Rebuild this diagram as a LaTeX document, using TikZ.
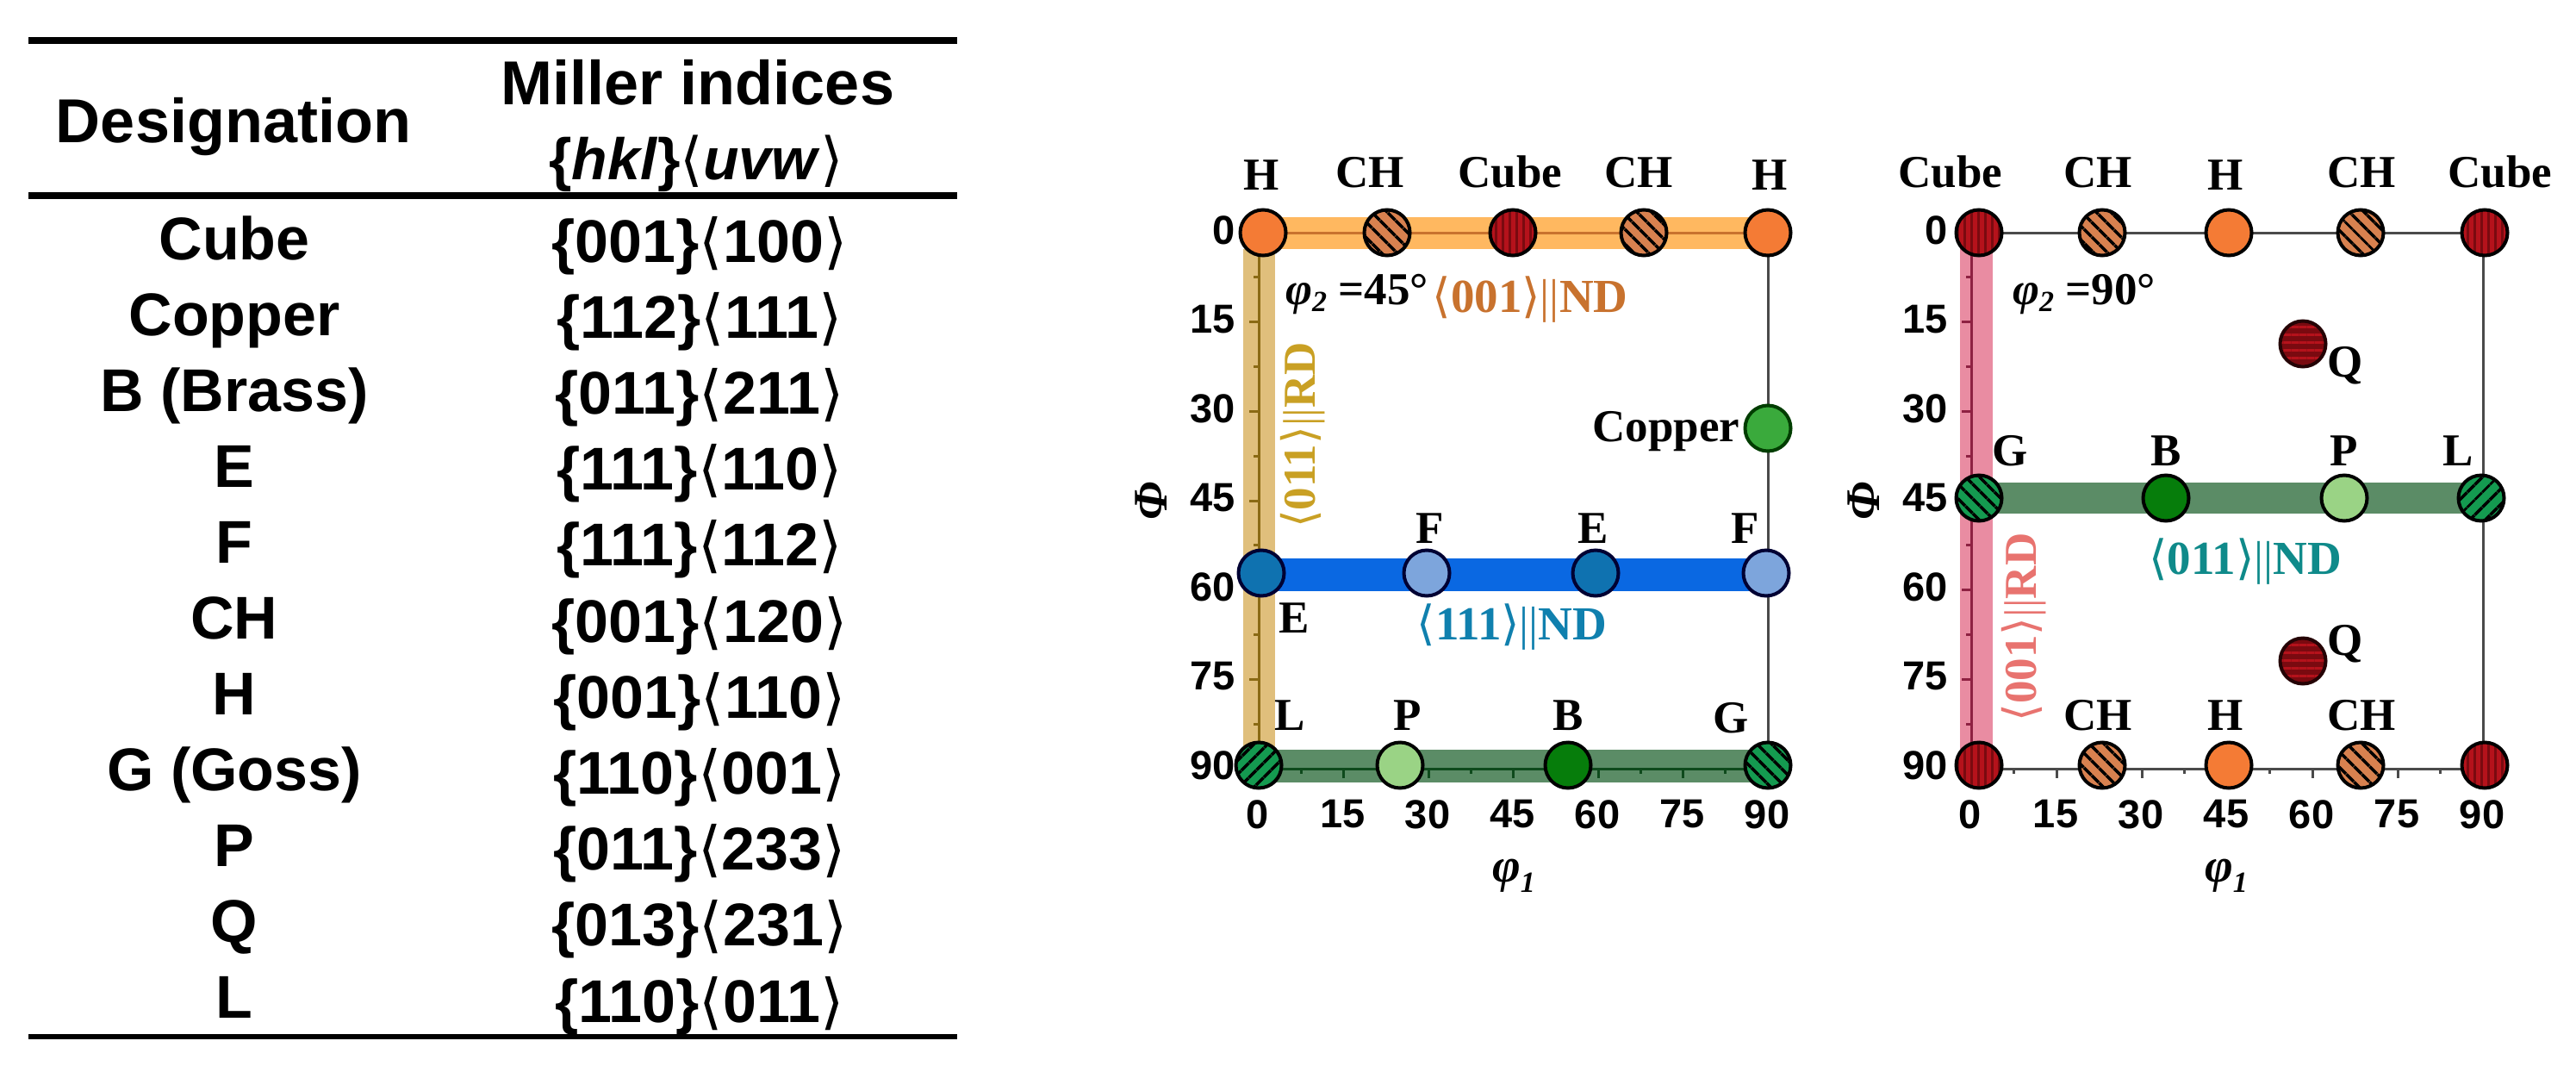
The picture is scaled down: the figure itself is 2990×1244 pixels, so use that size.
\documentclass[tikz,border=0pt]{standalone}
\usepackage{fontspec}
\setmainfont{Liberation Serif}
\setsansfont{Liberation Sans}
\newfontfamily\anglefont{DejaVu Sans}
\usetikzlibrary{patterns.meta}

\definecolor{hcol}{HTML}{F47B35}
\definecolor{chcol}{HTML}{D8814F}
\definecolor{cubecol}{HTML}{B5121B}
\definecolor{cubedark}{HTML}{7A0A10}
\definecolor{coppercol}{HTML}{3AAA3C}
\definecolor{ecol}{HTML}{0F72B0}
\definecolor{fcol}{HTML}{7DA5DC}
\definecolor{lcol}{HTML}{149A50}
\definecolor{pcol}{HTML}{9AD385}
\definecolor{bcol}{HTML}{067D0B}
\definecolor{orangeband}{HTML}{FFB860}
\definecolor{tanband}{HTML}{E0BF7C}
\definecolor{blueband}{HTML}{0A68E2}
\definecolor{greenband}{HTML}{5B8C66}
\definecolor{pinkband}{HTML}{E98CA2}
\definecolor{tanline}{HTML}{8A6A14}
\definecolor{pinkline}{HTML}{8E2142}
\definecolor{axisdark}{HTML}{0E4A1C}
\definecolor{axisgray}{HTML}{4A4A4A}
\definecolor{ndorange}{HTML}{C8722E}
\definecolor{rdgold}{HTML}{C9A024}
\definecolor{ndblue}{HTML}{1080AE}
\definecolor{ndteal}{HTML}{0F8A8A}
\definecolor{rdred}{HTML}{E8736F}

\newcommand{\lang}{{\anglefont\mdseries ⟨}}
\newcommand{\rang}{{\anglefont\mdseries ⟩}}
\newcommand{\parbars}{{\mdseries ||}}

\tikzset{
  tabtext/.style={font=\fontsize{70}{70}\selectfont\sffamily\bfseries,inner sep=0pt,anchor=base},
  tabhead/.style={tabtext,font=\fontsize{72}{72}\selectfont\sffamily\bfseries},
  plotlabel/.style={font=\fontsize{53}{53}\selectfont\bfseries,inner sep=0pt,anchor=base},
  dirlabel/.style={plotlabel,font=\fontsize{55}{55}\selectfont\bfseries},
  ticklabel/.style={font=\fontsize{47}{47}\selectfont\sffamily\bfseries,inner sep=0pt},
  oridot/.style={circle,draw=black,line width=4pt,minimum size=53pt,inner sep=0pt},
  hdot/.style={oridot,fill=hcol},
  chdot/.style={oridot,preaction={fill=chcol},pattern={Lines[angle=-45,distance=13pt,line width=4pt]},pattern color=black},
  cubedot/.style={oridot,preaction={fill=cubecol},pattern={Lines[angle=90,distance=8pt,line width=3pt]},pattern color=cubedark},
  copperdot/.style={oridot,draw=black!60!green!60!black,fill=coppercol},
  edot/.style={oridot,draw=black!80!blue,fill=ecol},
  fdot/.style={oridot,draw=black!80!blue,fill=fcol},
  ldot/.style={oridot,preaction={fill=lcol},pattern={Lines[angle=45,distance=13pt,line width=4pt]},pattern color=black},
  gdot/.style={oridot,preaction={fill=lcol},pattern={Lines[angle=-45,distance=13pt,line width=4pt]},pattern color=black},
  pdot/.style={oridot,fill=pcol},
  bdot/.style={oridot,fill=bcol},
  qdot/.style={oridot,draw=black!70!cubedark,preaction={fill=cubedark},pattern={Lines[angle=0,distance=9pt,line width=3pt]},pattern color=cubecol}
}

\begin{document}
\begin{tikzpicture}[x=1pt,y=-1pt]
  \useasboundingbox (0,0) rectangle (2990,1244);

  % table
  \draw[line width=8pt] (33,47) -- (1111,47);
  \draw[line width=8pt] (33,227) -- (1111,227);
  \draw[line width=6pt] (33,1203) -- (1111,1203);
  \node[tabhead] (head1) at (271,165) {Designation};
  \node[tabhead] (head2) at (810,122) {Miller indices};
  \node[tabtext,font=\fontsize{68}{68}\selectfont\sffamily\bfseries] (head3) at (808,208) {\{\textit{hkl}\}\lang\textit{uvw}\rang};
  \foreach \tname/\thkl/\tuvw [count=\i from 0] in {Cube/001/100,Copper/112/111,B (Brass)/011/211,E/111/110,F/111/112,CH/001/120,H/001/110,G (Goss)/110/001,P/011/233,Q/013/231,L/110/011} {
    \node[tabtext] (name\i) at (272,{301+88*\i}) {\tname};
    \node[tabtext] (idx\i) at (812,{304+88.2*\i}) {\{\thkl\}\lang\tuvw\rang};
  }

  % bands
  \fill[orangeband] (1461,252) rectangle (2052,289);
  \fill[tanband] (1443,289) rectangle (1480,870);
  \fill[blueband] (1461,648) rectangle (2052,686);
  \fill[greenband] (1461,870) rectangle (2052,908);
  \fill[pinkband] (2275,270) rectangle (2313,892);
  \fill[greenband] (2288,560) rectangle (2882,596);

  % axes, ticks and tick labels
  \foreach \xa/\xb/\cleft/\cbot/\ctop in {1461/2052/tanline/axisdark/ndorange,2288/2882/pinkline/axisgray/axisgray} {
    \draw[axisgray,line width=3pt] (\xb,270) -- (\xb,892);
    \draw[\ctop,line width=3pt] (\xa,270) -- (\xb,270);
    \draw[\cleft,line width=3pt] (\xa,270) -- (\xa,892);
    \draw[\cbot,line width=3pt] (\xa,892) -- (\xb,892);
    \foreach \v in {7.5,22.5,...,82.5} {
      \draw[\cleft,line width=3pt] (\xa,{270+6.911*\v}) -- ++(-6,0);
      \draw[\cbot,line width=3pt] ({\xa+(\xb-\xa)/90*\v},892) -- ++(0,6);
    }
    \foreach \v in {15,30,...,75} {
      \draw[\cleft,line width=3pt] (\xa,{270+6.911*\v}) -- ++(-11,0);
      \draw[\cbot,line width=3pt] ({\xa+(\xb-\xa)/90*\v},892) -- ++(0,11);
    }
    \foreach \v in {0,15,...,90} {
      \node[ticklabel,anchor=east] (ylab\xa\v) at ({\xa-27},{267+6.9*\v}) {\v};
      \node[ticklabel] (xlab\xa\v) at ({\xa-1+(\xb-\xa)/90*\v},945) {\v};
    }
    \node[plotlabel,font=\fontsize{56}{56}\selectfont\bfseries\itshape] (xtitle\xa) at ({\xa+296},1023) {φ\raisebox{-12pt}{\fontsize{34}{34}\selectfont 1}};
    \node[plotlabel,anchor=center,rotate=90,font=\fontsize{56}{56}\selectfont\bfseries\itshape] (ytitle\xa) at ({\xa-125},581) {Φ};
  }

  % left plot
  \foreach \kind/\px/\py [count=\i] in {hdot/1466/270,chdot/1610/270,cubedot/1756/270,chdot/1908/270,hdot/2052/270,
    copperdot/2052/497,edot/1464/665,fdot/1656/665,edot/1852/665,fdot/2050/665,
    ldot/1461/888,pdot/1625/888,bdot/1820/888,gdot/2052/888} {
    \node[\kind] (leftdot\i) at (\px,\py) {};
  }
  \foreach \txt/\px/\py [count=\i] in {H/1464/220,CH/1590/217,Cube/1753/217,CH/1902/217,H/2054/220,
    Copper/1934/512,F/1660/630,E/1849/630,F/2026/630,E/1502/734,
    L/1497/847,P/1634/847,B/1820/847,G/2009/850} {
    \node[plotlabel] (leftlab\i) at (\px,\py) {\txt};
  }
  \node[plotlabel] (leftphi) at (1575,353) {{\itshape φ\raisebox{-8pt}{\fontsize{34}{34}\selectfont 2}} =45°};
  \node[dirlabel,ndorange] (leftnd) at (1776,362) {\lang 001\rang\parbars ND};
  \node[dirlabel,ndblue] (leftndb) at (1755,742) {\lang 111\rang\parbars ND};
  \node[plotlabel,rdgold,anchor=center,rotate=90] (leftrd) at (1512,505) {\lang 011\rang\parbars RD};

  % right plot
  \foreach \kind/\px/\py [count=\i] in {cubedot/2297/270,chdot/2440/270,hdot/2587/270,chdot/2740/270,cubedot/2884/270,
    qdot/2673/399,gdot/2297/578,bdot/2514/578,pdot/2721/578,ldot/2880/578,
    qdot/2673/767,cubedot/2297/888,chdot/2440/888,hdot/2587/888,chdot/2740/888,cubedot/2884/888} {
    \node[\kind] (rightdot\i) at (\px,\py) {};
  }
  \foreach \txt/\px/\py [count=\i] in {Cube/2264/217,CH/2435/217,H/2583/220,CH/2741/217,Cube/2902/217,
    Q/2722/437,G/2333/540,B/2514/540,P/2721/540,L/2853/540,
    Q/2722/760,CH/2435/847,H/2583/847,CH/2741/847} {
    \node[plotlabel] (rightlab\i) at (\px,\py) {\txt};
  }
  \node[plotlabel] (rightphi) at (2419,353) {{\itshape φ\raisebox{-8pt}{\fontsize{34}{34}\selectfont 2}} =90°};
  \node[dirlabel,ndteal] (rightnd) at (2606,666) {\lang 011\rang\parbars ND};
  \node[plotlabel,rdred,anchor=center,rotate=90] (rightrd) at (2349,728) {\lang 001\rang\parbars RD};
\end{tikzpicture}
\end{document}
